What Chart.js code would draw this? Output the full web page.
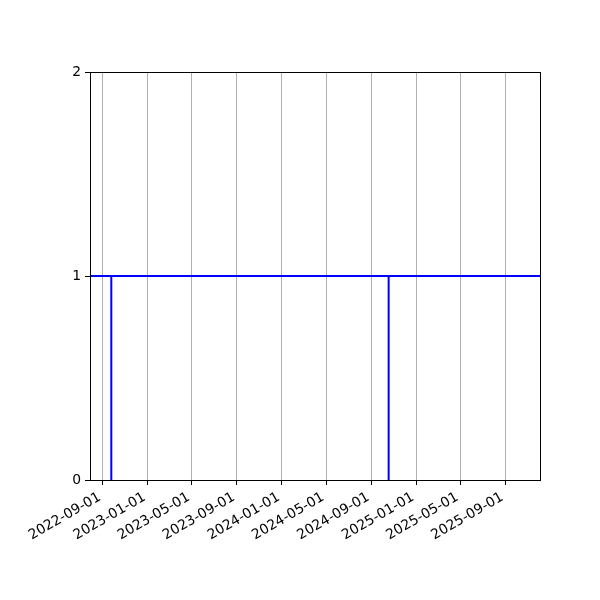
<!DOCTYPE html>
<html>
<head>
<meta charset="utf-8">
<script src="https://cdn.jsdelivr.net/npm/chart.js@4.4.1/dist/chart.umd.min.js"></script>
<style>
  html, body { margin: 0; padding: 0; background: #fff; }
  #wrap { width: 600px; height: 600px; }
</style>
</head>
<body>
<div id="wrap"><canvas id="stepChart" width="600" height="600"></canvas></div>
<script>
// ---------------------------------------------------------------------------
// Data
// ---------------------------------------------------------------------------
const signalDates = ['2022-09-24', '2022-09-24', '2024-10-18', '2024-10-18', '2024-10-18'];
const signalValues = [0, 1, 1, 0, 1];

// reference level drawn across the whole axis
const levelValue = 1;

// axis range and tick labels
const xRange = ['2022-07-28', '2025-12-04'];
const xTickDates = ['2022-09-01', '2023-01-01', '2023-05-01', '2023-09-01', '2024-01-01',
                    '2024-05-01', '2024-09-01', '2025-01-01', '2025-05-01', '2025-09-01'];
const yTicks = [0, 1, 2];

const toMs = d => Date.parse(d + 'T00:00:00Z');
const fmtDate = ms => new Date(ms).toISOString().slice(0, 10);

const xMin = toMs(xRange[0]);
const xMax = toMs(xRange[1]);

// draws the full box around the plot area (matplotlib style)
const frame = {
    id: 'frame',
    afterDraw(chart) {
        const a = chart.chartArea;
        const ctx = chart.ctx;
        ctx.save();
        ctx.strokeStyle = '#000';
        ctx.lineWidth = 1;
        ctx.strokeRect(Math.round(a.left) + 0.5, Math.round(a.top) + 0.5,
                       Math.round(a.right - a.left), Math.round(a.bottom - a.top));
        ctx.restore();
    }
};

const font = { family: 'DejaVu Sans', size: 13.9 };

new Chart(document.getElementById('stepChart').getContext('2d'), {
    type: 'line',
    data: {
        datasets: [
            {
                label: 'signal',
                data: signalDates.map((d, i) => ({ x: toMs(d), y: signalValues[i] })),
                borderColor: '#0000ff',
                borderWidth: 2,
                pointRadius: 0,
                tension: 0
            },
            {
                label: 'level',
                data: [{ x: xMin, y: levelValue }, { x: xMax, y: levelValue }],
                borderColor: '#0000ff',
                borderWidth: 2,
                pointRadius: 0,
                tension: 0
            }
        ]
    },
    options: {
        responsive: false,
        animation: false,
        layout: { padding: { left: 0, right: 60, top: 72, bottom: 0 } },
        plugins: {
            legend: { display: false },
            tooltip: { enabled: false }
        },
        scales: {
            x: {
                type: 'linear',
                min: xMin,
                max: xMax,
                afterBuildTicks: axis => { axis.ticks = xTickDates.map(d => ({ value: toMs(d) })); },
                afterFit: axis => { axis.height = 120; },
                grid: { color: '#b0b0b0', lineWidth: 1, tickColor: '#000', tickLength: 5 },
                border: { color: '#000', width: 1 },
                ticks: {
                    callback: v => fmtDate(v),
                    color: '#000',
                    font,
                    minRotation: 30,
                    maxRotation: 30,
                    autoSkip: false,
                    padding: 4,
                    labelOffset: -3
                }
            },
            y: {
                min: 0,
                max: 2,
                afterBuildTicks: axis => { axis.ticks = yTicks.map(v => ({ value: v })); },
                afterFit: axis => { axis.width = 90; },
                grid: { drawOnChartArea: false, tickColor: '#000', tickLength: 5 },
                border: { color: '#000', width: 1 },
                ticks: { color: '#000', font, padding: 4 }
            }
        }
    },
    plugins: [frame]
});
</script>
</body>
</html>
